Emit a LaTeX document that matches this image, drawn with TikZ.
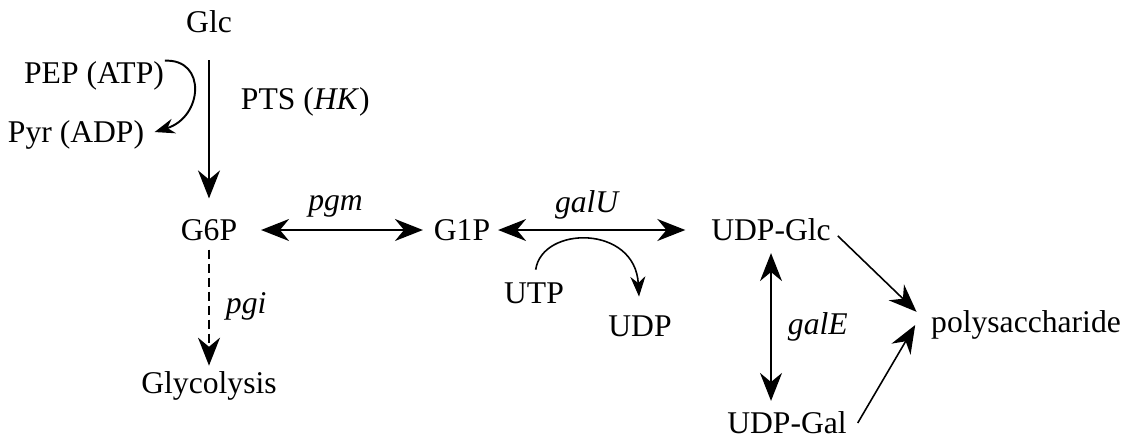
\documentclass[tikz,border=0pt]{standalone}
\usepackage{fontspec}
\setmainfont{Liberation Serif}
\usetikzlibrary{arrows.meta}

\begin{document}
\begin{tikzpicture}[x=0.02cm, y=-0.02cm, line width=1.1pt,
  every node/.style={font=\fontsize{18}{20}\selectfont, inner sep=0pt},
  conv/.style={-{Stealth[length=0.56cm, width=0.44cm]}},
  rev/.style={{Stealth[length=0.56cm, width=0.44cm]}-{Stealth[length=0.56cm, width=0.44cm]}},
  cofac/.style={-{Stealth[length=0.4cm, width=0.3cm]}}]
  \useasboundingbox (0,0) rectangle (1131,440);

  % metabolites
  \node (glc) at (209,22) {Glc};
  \node (pep) at (94,76) {PEP (ATP)};
  \node (pyr) at (76,135) {Pyr (ADP)};
  \node (g6p) at (209,230) {G6P};
  \node (gly) at (209,386) {Glycolysis};
  \node (g1p) at (462,230) {G1P};
  \node (utp) at (534,293) {UTP};
  \node (udp) at (640,326) {UDP};
  \node (udpglc) at (771,230) {UDP-Glc};
  \node (udpgal) at (787,423) {UDP-Gal};
  \node (poly) at (1026,325) {polysaccharide};

  % uptake and glycolysis
  \draw[conv, shorten <=0.52cm, shorten >=0.4cm] (glc) -- (g6p)
    node[pos=.37, right=0.62cm] {PTS (\textit{HK})};
  \draw[cofac, shorten >=0.2cm] (pep.north east) .. controls +(42,-2) and +(58,-18) .. (pyr.east);
  \draw[conv, dash pattern=on 0.18cm off 0.1cm, shorten <=0.16cm, shorten >=0.1cm] (g6p) -- (gly)
    node[midway, right=0.32cm] {\textit{pgi}};

  % towards the sugar nucleotides
  \draw[rev, shorten <=0.46cm, shorten >=0.2cm] (g6p) -- (g1p)
    node[midway, above=0.24cm] {\textit{pgm}};
  \draw[rev, shorten <=0.14cm, shorten >=0.5cm] (g1p) -- (udpglc)
    node[pos=.44, above=0.2cm] {\textit{galU}};
  \draw[cofac, line width=0.9pt, shorten <=0.24cm, shorten >=0.36cm] (utp.north) .. controls +(8,-56) and +(-5,-90) .. (udp.north);
  \draw[rev, shorten <=0.22cm, shorten >=0.2cm] (udpglc.south) -- (udpglc.south |- udpgal.north)
    node[midway, right=0.32cm] {\textit{galE}};

  % polymerisation
  \draw[conv, line width=0.9pt, shorten <=0.17cm, shorten >=0.38cm] (udpglc.east) -- (poly.west);
  \draw[conv, line width=0.9pt] ([xshift=0.2cm]udpgal.east) -- ([xshift=-0.3cm]poly.west);
\end{tikzpicture}
\end{document}
